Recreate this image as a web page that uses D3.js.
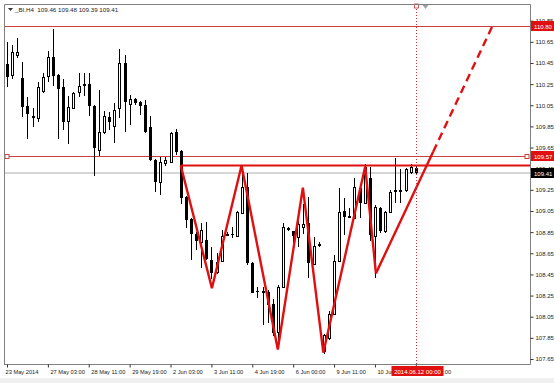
<!DOCTYPE html>
<html>
<head>
<meta charset="utf-8">
<script src="https://cdn.jsdelivr.net/npm/d3@7"></script>
<style>
  body { margin: 0; background: #fff; }
  svg { display: block; font-family: "Liberation Sans", Arial, sans-serif; }
</style>
</head>
<body>
<svg id="chart" width="554" height="383"></svg>
<script>
// H4 candles
var openVals = [110.44, 110.33, 110.52, 110.31, 110.04, 109.95, 109.93, 110.19, 110.33, 110.51,
  110.34, 110.22, 109.90, 110.03, 110.17, 110.24, 110.25, 110.04, 109.63, 109.80,
  109.94, 109.86, 110.02, 110.45, 110.06, 110.11, 110.08, 110.05, 109.84, 109.53,
  109.32, 109.50, 109.52, 109.80, 109.62, 109.18, 108.97, 108.83, 108.76, 108.78,
  108.59, 108.48, 108.57, 108.82, 108.83, 108.81, 109.03, 109.28, 108.56, 108.29,
  108.28, 108.28, 108.17, 107.90, 108.33, 108.89, 108.86, 108.81, 108.90, 108.94,
  108.55, 108.73, 107.73, 107.85, 108.08, 108.58, 109.05, 108.99, 108.99, 109.27,
  109.13, 109.36, 108.82, 109.08, 108.86, 109.04, 109.25, 109.24, 109.25, 109.42,
  109.46];
var highVals = [110.65, 110.62, 110.69, 110.46, 110.13, 110.02, 110.27, 110.36, 110.56, 110.77,
  110.35, 110.30, 110.14, 110.18, 110.36, 110.36, 110.36, 110.05, 110.19, 110.00,
  109.99, 110.07, 110.58, 110.53, 110.15, 110.12, 110.09, 110.10, 109.95, 109.54,
  109.56, 109.56, 109.80, 109.83, 109.63, 109.19, 108.98, 108.85, 108.94, 108.95,
  108.71, 108.65, 108.87, 108.85, 108.90, 109.05, 109.48, 109.41, 108.57, 108.33,
  108.33, 108.30, 108.22, 108.35, 108.94, 108.90, 108.86, 108.96, 109.12, 109.18,
  108.80, 108.76, 107.89, 108.10, 108.63, 109.27, 109.17, 109.08, 109.36, 109.28,
  109.49, 109.47, 109.11, 109.09, 109.05, 109.25, 109.55, 109.45, 109.46, 109.49,
  109.48];
var lowVals = [110.22, 110.30, 110.50, 109.94, 109.73, 109.84, 109.89, 110.17, 110.27, 110.23,
  109.73, 109.82, 109.68, 110.02, 110.13, 110.14, 109.95, 109.38, 109.57, 109.78,
  109.82, 109.69, 109.93, 109.80, 109.86, 110.05, 109.96, 109.79, 109.52, 109.23,
  109.20, 109.48, 109.51, 109.58, 109.12, 108.89, 108.59, 108.68, 108.51, 108.59,
  108.41, 108.45, 108.57, 108.81, 108.79, 108.80, 109.02, 108.54, 108.27, 108.23,
  107.97, 107.99, 107.87, 107.78, 108.32, 108.86, 108.75, 108.71, 108.83, 108.42,
  108.54, 108.71, 107.70, 107.83, 108.07, 108.57, 108.82, 108.98, 108.98, 108.98,
  109.12, 108.77, 108.42, 108.84, 108.84, 109.03, 109.13, 109.13, 109.23, 109.40,
  109.39];
var closeVals = [110.32, 110.55, 110.55, 110.04, 109.96, 109.93, 110.22, 110.32, 110.51, 110.33,
  110.21, 109.89, 110.03, 110.17, 110.23, 110.25, 110.04, 109.64, 109.80, 109.95,
  109.89, 110.01, 110.45, 110.08, 110.11, 110.07, 110.04, 109.79, 109.53, 109.32,
  109.51, 109.53, 109.79, 109.61, 109.18, 108.96, 108.83, 108.76, 108.87, 108.60,
  108.47, 108.57, 108.81, 108.83, 108.82, 109.04, 109.28, 108.56, 108.28, 108.28,
  108.29, 108.16, 107.90, 108.33, 108.90, 108.87, 108.81, 108.93, 108.93, 108.56,
  108.72, 108.74, 107.88, 108.08, 108.58, 109.04, 108.99, 109.00, 109.28, 109.13,
  109.47, 108.82, 109.09, 108.86, 109.04, 109.23, 109.23, 109.25, 109.45, 109.47,
  109.41];

var timeIdx = [0, 8, 16, 24, 32, 40, 48, 56, 64, 72, 80];
var timeLabels = ['23 May 2014', '27 May 03:00', '28 May 11:00', '29 May 19:00', '2 Jun 03:00',
  '3 Jun 11:00', '4 Jun 19:00', '6 Jun 00:00', '9 Jun 11:00', '10 Jun 19:00', '12 Jun 03:00'];
var priceTicks = [110.85, 110.65, 110.45, 110.25, 110.05, 109.85, 109.65, 109.45, 109.25,
  109.05, 108.85, 108.65, 108.45, 108.25, 108.05, 107.85, 107.65];

// drawn objects (bar index, price)
var zigzagIdx = [34, 40.1, 45.9, 53, 57.9, 61.9, 70.1, 72.2];
var zigzagPrice = [109.48, 108.32, 109.48, 107.74, 109.27, 107.71, 109.47, 108.46];
var projSolidIdx = [72.2, 83.4];
var projSolidPrice = [108.46, 109.61];
var projDashIdx = [83.4, 94.9];
var projDashPrice = [109.61, 110.79];
var necklineStart = 34, necklinePrice = 109.48;
var levelTop = 110.80, levelMid = 109.57, bidPrice = 109.41;
var crossIdx = 80, crossLabel = '2014.06.12 00:00';
var header = '_BI,H4  109.46 109.48 109.39 109.41';

var frameL = 4, frameT = 4, frameR = 530, frameB = 364;
var red = '#e01010', thinRed = '#cc4040';
var fontFamily = '"Liberation Sans", Arial, sans-serif';

var svg = d3.select('#chart');

var x = d3.scaleLinear()
  .domain([0, 80])
  .range([7, 415.8]);
var y = d3.scaleLinear()
  .domain([107.65, 110.85])
  .range([359, 20.7]);

var candles = d3.range(openVals.length).map(function (i) {
  return {i: i, o: openVals[i], h: highVals[i], l: lowVals[i], c: closeVals[i]};
});

// bid line
svg.append('line')
  .attr('x1', frameL).attr('x2', frameR)
  .attr('y1', y(bidPrice)).attr('y2', y(bidPrice))
  .attr('stroke', '#c8c8c8')
  .attr('stroke-width', 1.6);

// horizontal levels
svg.append('line')
  .attr('x1', frameL).attr('x2', frameR)
  .attr('y1', Math.round(y(levelTop)) + 0.5).attr('y2', Math.round(y(levelTop)) + 0.5)
  .attr('stroke', thinRed);
svg.append('line')
  .attr('x1', frameL + 2).attr('x2', frameR - 2)
  .attr('y1', Math.round(y(levelMid)) + 0.5).attr('y2', Math.round(y(levelMid)) + 0.5)
  .attr('stroke', thinRed);
[frameL + 3, frameR - 3].forEach(function (px) {
  svg.append('rect')
    .attr('x', px - 2).attr('y', Math.round(y(levelMid)) - 1.5)
    .attr('width', 4).attr('height', 4)
    .attr('fill', '#fff')
    .attr('stroke', thinRed);
});

// candles
var g = svg.append('g').attr('shape-rendering', 'crispEdges');
g.selectAll('.wick')
  .data(candles)
  .enter()
  .append('line')
  .attr('x1', function (d) { return Math.round(x(d.i)) + 0.5; })
  .attr('x2', function (d) { return Math.round(x(d.i)) + 0.5; })
  .attr('y1', function (d) { return y(d.h); })
  .attr('y2', function (d) { return y(d.l); })
  .attr('stroke', '#000');
g.selectAll('.body')
  .data(candles)
  .enter()
  .append('rect')
  .attr('x', function (d) { return Math.round(x(d.i)) - 1 + (d.c >= d.o ? 0.5 : 0); })
  .attr('y', function (d) { return Math.round(y(Math.max(d.o, d.c))) + (d.c >= d.o ? 0.5 : 0); })
  .attr('width', function (d) { return d.c >= d.o ? 2 : 3; })
  .attr('height', function (d) {
    return Math.max(1, Math.round(Math.abs(y(d.o) - y(d.c))));
  })
  .attr('fill', function (d) { return d.c >= d.o ? '#fff' : '#000'; })
  .attr('stroke', function (d) { return d.c >= d.o ? '#000' : 'none'; });

// neckline
svg.append('line')
  .attr('x1', x(necklineStart)).attr('x2', frameR)
  .attr('y1', y(necklinePrice)).attr('y2', y(necklinePrice))
  .attr('stroke', red)
  .attr('stroke-width', 2);

var line = d3.line()
  .x(function (d) { return x(d[0]); })
  .y(function (d) { return y(d[1]); });

svg.append('path')
  .datum(d3.zip(zigzagIdx, zigzagPrice))
  .attr('d', line)
  .attr('fill', 'none')
  .attr('stroke', red)
  .attr('stroke-width', 2.4)
  .attr('stroke-linejoin', 'miter');
svg.append('path')
  .datum(d3.zip(projSolidIdx, projSolidPrice))
  .attr('d', line)
  .attr('fill', 'none')
  .attr('stroke', red)
  .attr('stroke-width', 2.4);
svg.append('path')
  .datum(d3.zip(projDashIdx, projDashPrice))
  .attr('d', line)
  .attr('fill', 'none')
  .attr('stroke', red)
  .attr('stroke-width', 2.4)
  .attr('stroke-dasharray', '8,5');

// crosshair
var cx = Math.round(x(crossIdx)) + 0.5;
svg.append('line')
  .attr('x1', cx).attr('x2', cx)
  .attr('y1', frameT + 2).attr('y2', frameB)
  .attr('stroke', '#d03030')
  .attr('stroke-dasharray', '1,2');
svg.append('rect')
  .attr('x', cx - 2).attr('y', frameT)
  .attr('width', 4).attr('height', 4)
  .attr('fill', '#fff').attr('stroke', '#d03030').attr('stroke-width', 0.8);

// shift marker
svg.append('path')
  .attr('d', 'M' + (cx + 6) + ',' + (frameT + 1) + 'h6l-3,4z')
  .attr('fill', '#a0a0a0');

// frame
svg.append('path')
  .attr('d', 'M' + (frameL + 0.5) + ',' + frameB + 'V' + (frameT + 0.5) + 'H' + (frameR + 0.5) + 'V' + (frameB + 0.5) + 'H' + frameL)
  .attr('fill', 'none')
  .attr('stroke', '#808080');

// price axis
var yAxis = svg.append('g')
  .attr('transform', 'translate(' + (frameR + 0.5) + ',0)')
  .call(d3.axisRight(y).tickValues(priceTicks).tickSize(3).tickSizeOuter(0).tickPadding(2)
    .tickFormat(d3.format('.2f')));
yAxis.select('.domain').remove();
yAxis.selectAll('line').attr('stroke', '#333');
yAxis.selectAll('text')
  .attr('font-family', fontFamily)
  .attr('font-size', 6)
  .attr('fill', '#222');

// time axis
var xAxis = svg.append('g')
  .attr('transform', 'translate(0,' + (frameB + 0.5) + ')')
  .call(d3.axisBottom(x).tickValues(timeIdx).tickSize(3).tickSizeOuter(0)
    .tickFormat(function (d, i) { return timeLabels[i]; }));
xAxis.select('.domain').remove();
xAxis.selectAll('line').attr('stroke', '#333');
xAxis.selectAll('text')
  .attr('font-family', fontFamily)
  .attr('font-size', 5.7)
  .attr('fill', '#222')
  .attr('text-anchor', 'start')
  .attr('dx', function (d, i) { return i === 0 ? -2 : 2; })
  .attr('y', 5);

// price boxes
function priceBox(price, fill) {
  var py = Math.round(y(price));
  svg.append('rect')
    .attr('x', frameR + 1).attr('y', py - 5)
    .attr('width', 23).attr('height', 10)
    .attr('fill', fill);
  svg.append('text')
    .attr('x', frameR + 4).attr('y', py + 2.5)
    .attr('font-size', 6)
    .attr('fill', '#fff')
    .text(d3.format('.2f')(price));
}
priceBox(levelTop, '#e01010');
priceBox(levelMid, '#e01010');
priceBox(bidPrice, '#000');

// crosshair time box
svg.append('rect')
  .attr('x', cx - 25).attr('y', frameB + 2)
  .attr('width', 52).attr('height', 10)
  .attr('fill', '#e01010');
svg.append('text')
  .attr('x', cx + 1).attr('y', frameB + 9.5)
  .attr('text-anchor', 'middle')
  .attr('font-size', 6)
  .attr('fill', '#fff')
  .text(crossLabel);

// bottom strip
svg.append('rect')
  .attr('x', 0).attr('y', 378)
  .attr('width', 554).attr('height', 5)
  .attr('fill', '#f0f0f0');

// header
svg.append('path')
  .attr('d', 'M8,8h5l-2.5,3z')
  .attr('fill', '#333');
svg.append('text')
  .attr('x', 15).attr('y', 11.5)
  .attr('font-size', 6.2)
  .attr('fill', '#222')
  .attr('xml:space', 'preserve')
  .text(header);
</script>
</body>
</html>
